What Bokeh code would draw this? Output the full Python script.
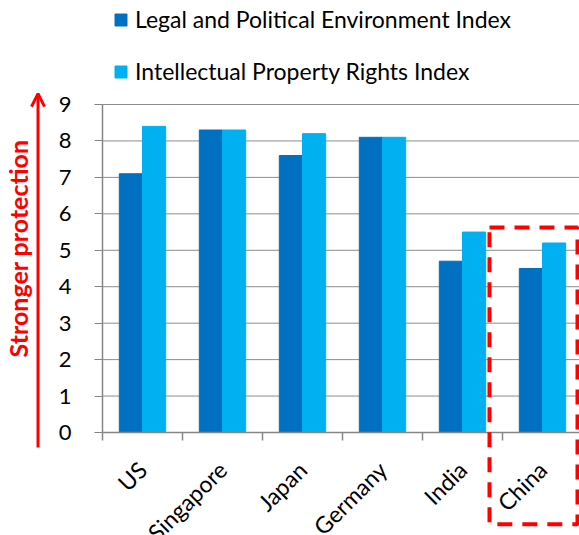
import numpy as np
from bokeh.plotting import figure
from bokeh.models import (ColumnDataSource, Range1d, LinearAxis, FixedTicker, Legend, LegendItem,
                          BoxAnnotation, Arrow, OpenHead, Label)
from bokeh.embed import file_html
from bokeh.resources import INLINE

countries = ["US", "Singapore", "Japan", "Germany", "India", "China"]
legal_political = [7.1, 8.3, 7.6, 8.1, 4.7, 4.5]
ip_rights = [8.4, 8.3, 8.2, 8.1, 5.5, 5.2]
series_names = ["Legal and Political Environment Index", "Intellectual Property Rights Index"]
y_ticks = list(range(0, 10))
highlight = "China"
axis_title = "Stronger protection"

FONT = "Lato"
DARK = "#0070C0"
LIGHT = "#00B0F0"
GREY = "#868686"
GRID = "#8c8c8c"
RED = "#FF0000"

W, H = 579, 535
n = len(countries)
centers = [i + 0.5 for i in range(n)]
boundaries = list(range(n + 1))
bw = 0.29
src = ColumnDataSource(dict(country=countries, center=centers, lp=legal_political, ip=ip_rights,
                            x_lp=[c - bw / 2 for c in centers], x_ip=[c + bw / 2 for c in centers]))

# the frame covers the whole canvas; axes are pinned at 0 with fixed_location
px_x = 80.0          # pixels per category
px_y = 328.0 / 9     # pixels per index unit
x0 = -102 / px_x
y1 = 432 / px_y
p = figure(x_range=Range1d(x0, x0 + W / px_x), y_range=Range1d(y1 - H / px_y, y1),
           width=W, height=H, output_backend="svg", toolbar_location=None,
           x_axis_location=None, y_axis_location=None,
           min_border_left=0, min_border_right=0, min_border_top=0, min_border_bottom=0)
p.outline_line_color = None
p.grid.visible = False

# gridlines
p.segment(x0=[0] * (len(y_ticks) - 1), x1=[n] * (len(y_ticks) - 1), y0=y_ticks[1:], y1=y_ticks[1:],
          line_color=GRID, line_width=1)

r1 = p.vbar(x="x_lp", top="lp", width=bw, source=src, fill_color=DARK, line_color=DARK)
r2 = p.vbar(x="x_ip", top="ip", width=bw, source=src, fill_color=LIGHT, line_color=LIGHT)

# y axis
ya = LinearAxis(fixed_location=0, bounds=(y_ticks[0], y_ticks[-1]), ticker=FixedTicker(ticks=y_ticks),
                major_label_text_font=FONT, major_label_text_font_size="22px",
                major_label_text_color="black", axis_line_color=GREY, axis_line_width=1.5,
                major_tick_line_color=GREY, major_tick_out=8, major_tick_in=0,
                minor_tick_out=0, minor_tick_in=0, major_label_standoff=23)
p.add_layout(ya, "left")

# x axis: labels at category centres, tick marks at category boundaries
xa = LinearAxis(fixed_location=0, bounds=(0, n),
                ticker=FixedTicker(ticks=centers, minor_ticks=boundaries),
                major_label_overrides={c: name for c, name in zip(centers, countries)},
                major_tick_line_color=None, major_tick_out=0, major_tick_in=0,
                minor_tick_line_color=GREY, minor_tick_line_width=1.5, minor_tick_out=8, minor_tick_in=0,
                axis_line_color=GREY, axis_line_width=1.5,
                major_label_orientation=np.pi / 4, major_label_text_font=FONT,
                major_label_text_font_size="23px", major_label_text_color="black",
                major_label_standoff=25)
p.add_layout(xa, "below")

# legend
legend = Legend(items=[LegendItem(label=series_names[0], renderers=[r1]),
                       LegendItem(label=series_names[1], renderers=[r2])],
                location=(113, 450), orientation="vertical",
                label_text_font=FONT, label_text_font_size="23px", label_text_color="black",
                label_height=27, glyph_height=15, glyph_width=15, spacing=24,
                padding=0, margin=0, label_standoff=7,
                border_line_color=None, background_fill_alpha=0)
p.add_layout(legend)

# axis title with arrow
p.add_layout(Label(x=-1.0625, y=5.05, text=axis_title, angle=np.pi / 2,
                   text_align="center", text_baseline="middle", text_color=RED,
                   text_font=FONT, text_font_style="bold", text_font_size="25px"))
p.add_layout(Arrow(end=OpenHead(size=13, line_color=RED, line_width=3),
                   x_start=-0.806, y_start=-0.41, x_end=-0.806, y_end=9.3,
                   line_color=RED, line_width=3))

# highlight box around China
hi = countries.index(highlight)
p.add_layout(BoxAnnotation(left=hi - 0.1625, right=hi + 0.9375, bottom=-2.52,
                           top=max(legal_political[hi], ip_rights[hi]) + 0.425,
                           fill_alpha=0, line_color=RED, line_alpha=1, line_width=4,
                           line_dash="15 10"))

open("out.html", "w").write(file_html(p, INLINE))
